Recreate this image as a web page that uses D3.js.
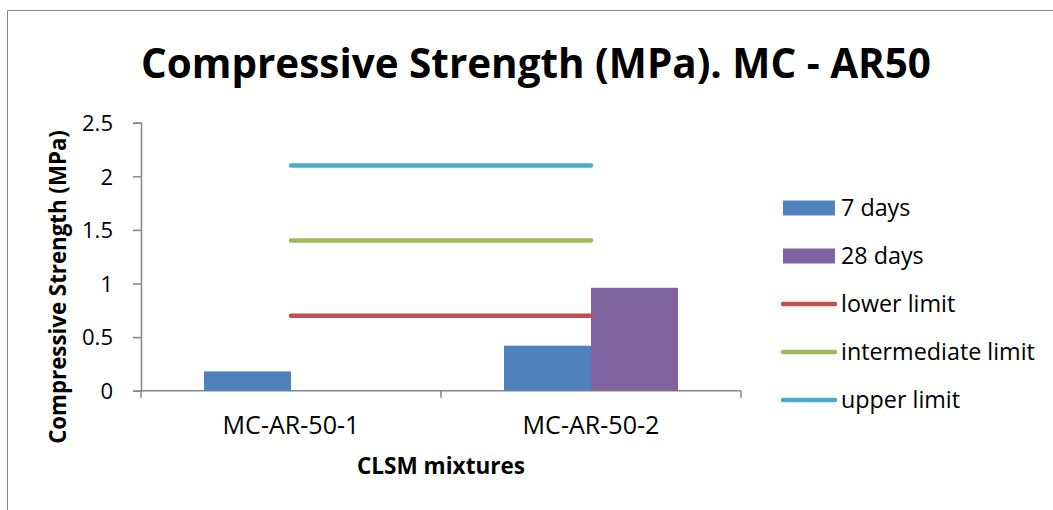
<!DOCTYPE html>
<html>
<head>
<meta charset="utf-8">
<script src="https://cdn.jsdelivr.net/npm/d3@7"></script>
<style>
  html, body { margin: 0; padding: 0; background: #fff; }
  svg { display: block; font-family: "Open Sans", "Liberation Sans", sans-serif; }
</style>
</head>
<body>
<svg id="chart" width="1053" height="510"></svg>
<script>
const categories = ["MC-AR-50-1", "MC-AR-50-2"];
const seriesNames = ["7 days", "28 days"];
const days7 = [0.18, 0.42];
const days28 = [0, 0.96];
const limitNames = ["lower limit", "intermediate limit", "upper limit"];
const limitValues = [0.7, 1.4, 2.1];
const yTicks = [0, 0.5, 1, 1.5, 2, 2.5];
const titleText = "Compressive Strength (MPa). MC - AR50";
const yTitle = "Compressive Strength (MPa)";
const xTitle = "CLSM mixtures";

const barColors = ["#4F81BD", "#8064A2"];
const lineColors = ["#C0504D", "#9BBB59", "#4BACC6"];
const axisColor = "#868686";

const svg = d3.select("#chart");

function fit(sel, target) {
  const node = sel.node();
  const w = node.getComputedTextLength();
  const fs = parseFloat(sel.attr("font-size"));
  sel.attr("font-size", (fs * target / w).toFixed(2));
}

// outer border (chart area)
svg.append("path")
  .attr("d", "M7.5,520 L7.5,10.5 L1060,10.5")
  .attr("fill", "none").attr("stroke", axisColor).attr("stroke-width", 1);

const plot = { left: 141, right: 741, top: 122.7, bottom: 390.7 };

const y = d3.scaleLinear().domain([0, 2.5]).range([plot.bottom, plot.top]);
const x0 = d3.scaleBand().domain(categories).range([plot.left, plot.right]).padding(0);
const x1 = d3.scaleBand().domain(seriesNames).range([0, x0.bandwidth()]).paddingInner(0).paddingOuter(0.724);

// title
const t = svg.append("text").attr("x", 536).attr("y", 78)
  .attr("text-anchor", "middle").attr("font-weight", "bold").attr("font-size", 38)
  .attr("fill", "#000").text(titleText);
fit(t, 790);

// y axis
const yAxis = d3.axisLeft(y).tickValues(yTicks).tickSize(8).tickFormat(d3.format("~g"));
const gy = svg.append("g").attr("transform", `translate(${plot.left},0)`).call(yAxis);
gy.attr("font-size", null).attr("font-family", null);
gy.select(".domain").attr("stroke", axisColor).attr("stroke-width", 1.5);
gy.selectAll(".tick line").attr("stroke", axisColor).attr("stroke-width", 1.5);
gy.selectAll(".tick text").attr("font-size", 21).attr("fill", "#000").attr("x", -28).attr("dy", "0.35em");
const ref = gy.selectAll(".tick text").filter(d => d === 2.5);
const tfs = 21 * 31 / ref.node().getComputedTextLength();
gy.selectAll(".tick text").attr("font-size", tfs.toFixed(2));

// x axis
const xAxis = d3.axisBottom(x0).tickSize(0).tickFormat(() => "");
const gx = svg.append("g").attr("transform", `translate(0,${plot.bottom})`).call(xAxis);
gx.attr("font-size", null).attr("font-family", null);
gx.select(".domain").attr("stroke", axisColor).attr("stroke-width", 1.5).attr("d", `M${plot.left},0H${plot.right}`);
const bounds = [plot.left].concat(categories.map(c => x0(c) + x0.bandwidth()));
gx.selectAll("line.bt").data(bounds).enter().append("line")
  .attr("class", "bt").attr("x1", d => d).attr("x2", d => d).attr("y1", 0).attr("y2", 7)
  .attr("stroke", axisColor).attr("stroke-width", 1.5);
gx.selectAll("text.cat").data(categories).enter().append("text")
  .attr("class", "cat")
  .attr("x", d => x0(d) + x0.bandwidth() / 2).attr("y", 43)
  .attr("text-anchor", "middle").attr("font-size", 19).attr("fill", "#000")
  .text(d => d)
  .each(function() { fit(d3.select(this), 137); });

// bars
const barData = [];
categories.forEach((c, i) => {
  barData.push({ cat: c, s: seriesNames[0], v: days7[i], color: barColors[0] });
  barData.push({ cat: c, s: seriesNames[1], v: days28[i], color: barColors[1] });
});
svg.append("g").selectAll("rect").data(barData.filter(d => d.v > 0)).enter().append("rect")
  .attr("x", d => x0(d.cat) + x1(d.s))
  .attr("width", x1.bandwidth())
  .attr("y", d => y(d.v))
  .attr("height", d => y(0) - y(d.v))
  .attr("fill", d => d.color);

// limit lines
const lineGen = d3.line().x(d => d[0]).y(d => d[1]);
limitValues.forEach((v, i) => {
  const pts = categories.map(c => [x0(c) + x0.bandwidth() / 2, y(v)]);
  svg.append("path").attr("d", lineGen(pts))
    .attr("fill", "none").attr("stroke", lineColors[i]).attr("stroke-width", 4.5)
    .attr("stroke-linecap", "round");
});

// axis titles
const yt = svg.append("text")
  .attr("transform", "translate(66,287) rotate(-90)")
  .attr("text-anchor", "middle").attr("font-weight", "bold").attr("font-size", 18)
  .attr("fill", "#000").text(yTitle);
fit(yt, 314);
const xt = svg.append("text").attr("x", 441).attr("y", 474)
  .attr("text-anchor", "middle").attr("font-weight", "bold").attr("font-size", 18)
  .attr("fill", "#000").text(xTitle);
fit(xt, 168);

// legend
const legendItems = [
  { name: seriesNames[0], type: "rect", color: barColors[0] },
  { name: seriesNames[1], type: "rect", color: barColors[1] },
  { name: limitNames[0], type: "line", color: lineColors[0] },
  { name: limitNames[1], type: "line", color: lineColors[1] },
  { name: limitNames[2], type: "line", color: lineColors[2] }
];
const lg = svg.append("g");
const rowY = d3.scalePoint().domain(legendItems.map(d => d.name)).range([208, 400]);
legendItems.forEach(d => {
  const cy = rowY(d.name);
  if (d.type === "rect") {
    lg.append("rect").attr("x", 783).attr("y", cy - 7.5).attr("width", 52).attr("height", 15).attr("fill", d.color);
  } else {
    lg.append("line").attr("x1", 783).attr("x2", 835).attr("y1", cy).attr("y2", cy)
      .attr("stroke", d.color).attr("stroke-width", 4.5).attr("stroke-linecap", "round");
  }
  lg.append("text").attr("x", 841).attr("y", cy).attr("dy", "0.35em")
    .attr("font-size", 19).attr("fill", "#000").text(d.name);
});
const longest = lg.selectAll("text").filter(function() { return this.textContent === limitNames[1]; });
const fsLeg = 19 * 194 / longest.node().getComputedTextLength();
lg.selectAll("text").attr("font-size", fsLeg.toFixed(2));
</script>
</body>
</html>
